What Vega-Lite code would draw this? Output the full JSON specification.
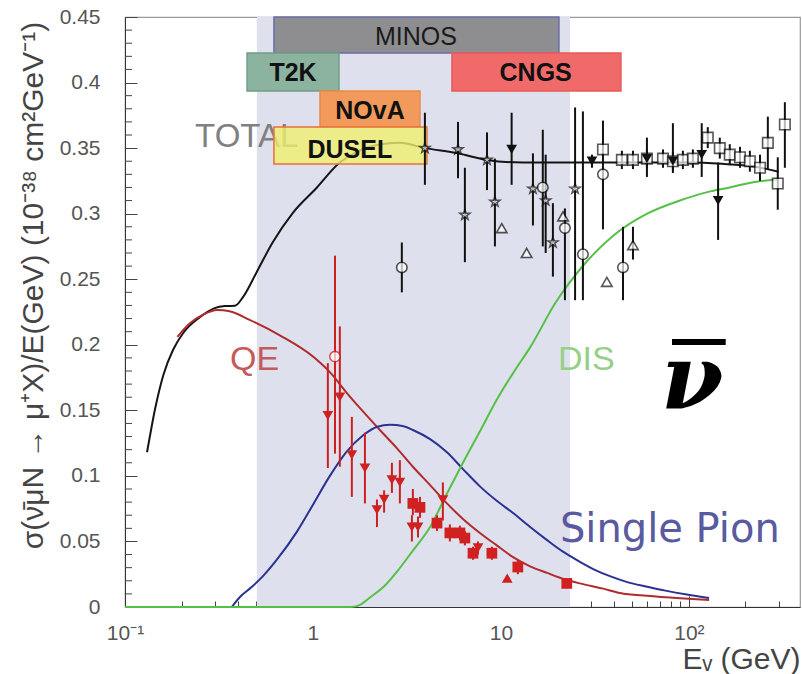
{
  "$schema": "https://vega.github.io/schema/vega-lite/v6.json",
  "width": 675,
  "height": 590,
  "autosize": {"type": "none"},
  "padding": {"left": 125, "top": 17, "right": 2, "bottom": 67},
  "background": "white",
  "config": {"view": {"stroke": "#9a9a9a", "strokeWidth": 1.2}, "font": "Liberation Sans", "axis": {"labelOverlap": false}},
  "resolve": {"scale": {"color": "independent", "stroke": "independent", "fill": "independent", "shape": "independent"}},
  "datasets": {
    "curves": [
      {"k": "TOTAL", "E": 0.131, "s": 0.118}, {"k": "TOTAL", "E": 0.145, "s": 0.152}, {"k": "TOTAL", "E": 0.16, "s": 0.177}, {"k": "TOTAL", "E": 0.18, "s": 0.196}, {"k": "TOTAL", "E": 0.204, "s": 0.209}, {"k": "TOTAL", "E": 0.25, "s": 0.221}, {"k": "TOTAL", "E": 0.3, "s": 0.228}, {"k": "TOTAL", "E": 0.34, "s": 0.2295}, {"k": "TOTAL", "E": 0.385, "s": 0.2298}, {"k": "TOTAL", "E": 0.425, "s": 0.2365}, {"k": "TOTAL", "E": 0.5, "s": 0.255}, {"k": "TOTAL", "E": 0.61, "s": 0.278}, {"k": "TOTAL", "E": 0.78, "s": 0.3005}, {"k": "TOTAL", "E": 1.05, "s": 0.32}, {"k": "TOTAL", "E": 1.39, "s": 0.339}, {"k": "TOTAL", "E": 1.57, "s": 0.344}, {"k": "TOTAL", "E": 2.0, "s": 0.351}, {"k": "TOTAL", "E": 2.9, "s": 0.354}, {"k": "TOTAL", "E": 3.95, "s": 0.35}, {"k": "TOTAL", "E": 5.9, "s": 0.346}, {"k": "TOTAL", "E": 8.4, "s": 0.341}, {"k": "TOTAL", "E": 13, "s": 0.339}, {"k": "TOTAL", "E": 30, "s": 0.339}, {"k": "TOTAL", "E": 60, "s": 0.339}, {"k": "TOTAL", "E": 100, "s": 0.339}, {"k": "TOTAL", "E": 150, "s": 0.338}, {"k": "TOTAL", "E": 220, "s": 0.336}, {"k": "TOTAL", "E": 300, "s": 0.332},
      {"k": "QE", "E": 0.19, "s": 0.206}, {"k": "QE", "E": 0.22, "s": 0.216}, {"k": "QE", "E": 0.26, "s": 0.223}, {"k": "QE", "E": 0.31, "s": 0.2266}, {"k": "QE", "E": 0.36, "s": 0.2255}, {"k": "QE", "E": 0.46, "s": 0.219}, {"k": "QE", "E": 0.67, "s": 0.207}, {"k": "QE", "E": 1.0, "s": 0.191}, {"k": "QE", "E": 1.25, "s": 0.178}, {"k": "QE", "E": 1.52, "s": 0.163}, {"k": "QE", "E": 1.85, "s": 0.149}, {"k": "QE", "E": 2.27, "s": 0.135}, {"k": "QE", "E": 2.8, "s": 0.121}, {"k": "QE", "E": 3.4, "s": 0.107}, {"k": "QE", "E": 4.2, "s": 0.093}, {"k": "QE", "E": 5.16, "s": 0.079}, {"k": "QE", "E": 6.3, "s": 0.067}, {"k": "QE", "E": 7.73, "s": 0.0565}, {"k": "QE", "E": 9.5, "s": 0.047}, {"k": "QE", "E": 11.6, "s": 0.038}, {"k": "QE", "E": 14.3, "s": 0.031}, {"k": "QE", "E": 17.6, "s": 0.026}, {"k": "QE", "E": 22, "s": 0.021}, {"k": "QE", "E": 26.3, "s": 0.018}, {"k": "QE", "E": 35, "s": 0.014}, {"k": "QE", "E": 43, "s": 0.0107}, {"k": "QE", "E": 60, "s": 0.0085}, {"k": "QE", "E": 90, "s": 0.0066}, {"k": "QE", "E": 128, "s": 0.0053},
      {"k": "PI", "E": 0.37, "s": 0}, {"k": "PI", "E": 0.409, "s": 0.0076}, {"k": "PI", "E": 0.47, "s": 0.015}, {"k": "PI", "E": 0.542, "s": 0.0235}, {"k": "PI", "E": 0.65, "s": 0.037}, {"k": "PI", "E": 0.822, "s": 0.0575}, {"k": "PI", "E": 1.0, "s": 0.078}, {"k": "PI", "E": 1.23, "s": 0.1}, {"k": "PI", "E": 1.5, "s": 0.118}, {"k": "PI", "E": 1.85, "s": 0.131}, {"k": "PI", "E": 2.2, "s": 0.1375}, {"k": "PI", "E": 2.57, "s": 0.139}, {"k": "PI", "E": 3.0, "s": 0.138}, {"k": "PI", "E": 3.4, "s": 0.135}, {"k": "PI", "E": 4.2, "s": 0.128}, {"k": "PI", "E": 5.16, "s": 0.118}, {"k": "PI", "E": 6.3, "s": 0.105}, {"k": "PI", "E": 7.73, "s": 0.092}, {"k": "PI", "E": 9.5, "s": 0.081}, {"k": "PI", "E": 11.6, "s": 0.0717}, {"k": "PI", "E": 14.3, "s": 0.061}, {"k": "PI", "E": 17.6, "s": 0.051}, {"k": "PI", "E": 21.5, "s": 0.042}, {"k": "PI", "E": 26.3, "s": 0.0345}, {"k": "PI", "E": 32, "s": 0.028}, {"k": "PI", "E": 38, "s": 0.0235}, {"k": "PI", "E": 47, "s": 0.019}, {"k": "PI", "E": 60, "s": 0.0155}, {"k": "PI", "E": 75, "s": 0.0125}, {"k": "PI", "E": 97.6, "s": 0.0095}, {"k": "PI", "E": 128, "s": 0.0069},
      {"k": "DIS", "E": 0.1, "s": 0}, {"k": "DIS", "E": 1.6, "s": 0}, {"k": "DIS", "E": 1.8, "s": 0.002}, {"k": "DIS", "E": 2.0, "s": 0.007}, {"k": "DIS", "E": 2.4, "s": 0.016}, {"k": "DIS", "E": 2.8, "s": 0.027}, {"k": "DIS", "E": 3.4, "s": 0.043}, {"k": "DIS", "E": 4.2, "s": 0.061}, {"k": "DIS", "E": 5.1, "s": 0.085}, {"k": "DIS", "E": 6.28, "s": 0.11}, {"k": "DIS", "E": 7.8, "s": 0.135}, {"k": "DIS", "E": 9.5, "s": 0.158}, {"k": "DIS", "E": 11.8, "s": 0.18}, {"k": "DIS", "E": 14.3, "s": 0.198}, {"k": "DIS", "E": 19.5, "s": 0.232}, {"k": "DIS", "E": 28, "s": 0.262}, {"k": "DIS", "E": 39.4, "s": 0.283}, {"k": "DIS", "E": 60, "s": 0.3}, {"k": "DIS", "E": 89.5, "s": 0.31}, {"k": "DIS", "E": 130, "s": 0.317}, {"k": "DIS", "E": 165, "s": 0.32}, {"k": "DIS", "E": 220, "s": 0.324}, {"k": "DIS", "E": 294, "s": 0.326}
    ],
    "pts": [
      {"E": 2.97, "s": 0.259, "lo": 0.24, "hi": 0.278, "m": "circle", "c": "k", "f": "n"},
      {"E": 3.94, "s": 0.35, "lo": 0.322, "hi": 0.377, "m": "star", "c": "k", "f": "n"},
      {"E": 5.91, "s": 0.349, "lo": 0.327, "hi": 0.37, "m": "star", "c": "k", "f": "n"},
      {"E": 6.43, "s": 0.299, "lo": 0.263, "hi": 0.335, "m": "star", "c": "k", "f": "n"},
      {"E": 8.43, "s": 0.341, "lo": 0.318, "hi": 0.362, "m": "star", "c": "k", "f": "n"},
      {"E": 9.29, "s": 0.309, "lo": 0.275, "hi": 0.342, "m": "star", "c": "k", "f": "n"},
      {"E": 10.1, "s": 0.289, "lo": 0.289, "hi": 0.289, "m": "tri", "c": "k", "f": "n"},
      {"E": 11.4, "s": 0.349, "lo": 0.322, "hi": 0.377, "m": "down", "c": "k", "f": "y"},
      {"E": 13.7, "s": 0.27, "lo": 0.27, "hi": 0.27, "m": "tri", "c": "k", "f": "n"},
      {"E": 14.8, "s": 0.319, "lo": 0.291, "hi": 0.346, "m": "star", "c": "k", "f": "n"},
      {"E": 16.7, "s": 0.32, "lo": 0.275, "hi": 0.364, "m": "circle", "c": "k", "f": "n"},
      {"E": 17.3, "s": 0.31, "lo": 0.27, "hi": 0.345, "m": "star", "c": "k", "f": "n"},
      {"E": 18.9, "s": 0.278, "lo": 0.252, "hi": 0.308, "m": "star", "c": "k", "f": "n"},
      {"E": 21.4, "s": 0.298, "lo": 0.298, "hi": 0.298, "m": "tri", "c": "k", "f": "n"},
      {"E": 21.9, "s": 0.289, "lo": 0.234, "hi": 0.304, "m": "circle", "c": "k", "f": "n"},
      {"E": 24.8, "s": 0.319, "lo": 0.234, "hi": 0.381, "m": "star", "c": "k", "f": "n"},
      {"E": 27.3, "s": 0.269, "lo": 0.234, "hi": 0.378, "m": "circle", "c": "k", "f": "n"},
      {"E": 30.5, "s": 0.34, "lo": 0.335, "hi": 0.345, "m": "down", "c": "k", "f": "y"},
      {"E": 34.9, "s": 0.349, "lo": 0.288, "hi": 0.371, "m": "square", "c": "k", "f": "n"},
      {"E": 34.9, "s": 0.33, "lo": 0.33, "hi": 0.33, "m": "circle", "c": "k", "f": "n"},
      {"E": 36.6, "s": 0.248, "lo": 0.248, "hi": 0.248, "m": "tri", "c": "k", "f": "n"},
      {"E": 44.6, "s": 0.259, "lo": 0.234, "hi": 0.29, "m": "circle", "c": "k", "f": "n"},
      {"E": 50.4, "s": 0.276, "lo": 0.265, "hi": 0.29, "m": "tri", "c": "k", "f": "n"},
      {"E": 44.0, "s": 0.341, "lo": 0.334, "hi": 0.348, "m": "square", "c": "k", "f": "n"},
      {"E": 50.4, "s": 0.341, "lo": 0.334, "hi": 0.348, "m": "square", "c": "k", "f": "n"},
      {"E": 59.8, "s": 0.342, "lo": 0.335, "hi": 0.349, "m": "square", "c": "k", "f": "n"},
      {"E": 72.8, "s": 0.342, "lo": 0.335, "hi": 0.349, "m": "square", "c": "k", "f": "n"},
      {"E": 82.2, "s": 0.34, "lo": 0.333, "hi": 0.347, "m": "square", "c": "k", "f": "n"},
      {"E": 92.9, "s": 0.341, "lo": 0.334, "hi": 0.348, "m": "square", "c": "k", "f": "n"},
      {"E": 105, "s": 0.342, "lo": 0.335, "hi": 0.349, "m": "square", "c": "k", "f": "n"},
      {"E": 126, "s": 0.358, "lo": 0.35, "hi": 0.366, "m": "square", "c": "k", "f": "n"},
      {"E": 146, "s": 0.35, "lo": 0.342, "hi": 0.358, "m": "square", "c": "k", "f": "n"},
      {"E": 165, "s": 0.345, "lo": 0.337, "hi": 0.353, "m": "square", "c": "k", "f": "n"},
      {"E": 187, "s": 0.343, "lo": 0.335, "hi": 0.351, "m": "square", "c": "k", "f": "n"},
      {"E": 211, "s": 0.34, "lo": 0.332, "hi": 0.348, "m": "square", "c": "k", "f": "n"},
      {"E": 239, "s": 0.335, "lo": 0.325, "hi": 0.345, "m": "square", "c": "k", "f": "n"},
      {"E": 263, "s": 0.354, "lo": 0.334, "hi": 0.374, "m": "square", "c": "k", "f": "n"},
      {"E": 297, "s": 0.323, "lo": 0.303, "hi": 0.343, "m": "square", "c": "k", "f": "n"},
      {"E": 324, "s": 0.368, "lo": 0.335, "hi": 0.385, "m": "square", "c": "k", "f": "n"},
      {"E": 59.8, "s": 0.342, "lo": 0.328, "hi": 0.358, "m": "down", "c": "k", "f": "y"},
      {"E": 82.2, "s": 0.34, "lo": 0.331, "hi": 0.369, "m": "down", "c": "k", "f": "y"},
      {"E": 117, "s": 0.345, "lo": 0.328, "hi": 0.369, "m": "down", "c": "k", "f": "y"},
      {"E": 143, "s": 0.31, "lo": 0.28, "hi": 0.339, "m": "down", "c": "k", "f": "y"},
      {"E": 1.2, "s": 0.146, "lo": 0.106, "hi": 0.186, "m": "down", "c": "r", "f": "y"},
      {"E": 1.31, "s": 0.191, "lo": 0.117, "hi": 0.268, "m": "circle", "c": "r", "f": "n"},
      {"E": 1.39, "s": 0.16, "lo": 0.107, "hi": 0.214, "m": "down", "c": "r", "f": "y"},
      {"E": 1.61, "s": 0.116, "lo": 0.084, "hi": 0.145, "m": "down", "c": "r", "f": "y"},
      {"E": 1.89, "s": 0.106, "lo": 0.079, "hi": 0.133, "m": "down", "c": "r", "f": "y"},
      {"E": 2.19, "s": 0.074, "lo": 0.061, "hi": 0.082, "m": "down", "c": "r", "f": "y"},
      {"E": 2.39, "s": 0.082, "lo": 0.072, "hi": 0.089, "m": "down", "c": "r", "f": "y"},
      {"E": 2.63, "s": 0.097, "lo": 0.087, "hi": 0.11, "m": "down", "c": "r", "f": "y"},
      {"E": 2.9, "s": 0.095, "lo": 0.079, "hi": 0.112, "m": "down", "c": "r", "f": "y"},
      {"E": 3.4, "s": 0.079, "lo": 0.07, "hi": 0.09, "m": "square", "c": "r", "f": "y"},
      {"E": 3.36, "s": 0.061, "lo": 0.05, "hi": 0.07, "m": "down", "c": "r", "f": "y"},
      {"E": 3.71, "s": 0.076, "lo": 0.068, "hi": 0.084, "m": "square", "c": "r", "f": "y"},
      {"E": 3.62, "s": 0.061, "lo": 0.053, "hi": 0.069, "m": "down", "c": "r", "f": "y"},
      {"E": 4.57, "s": 0.064, "lo": 0.058, "hi": 0.07, "m": "square", "c": "r", "f": "y"},
      {"E": 4.91, "s": 0.0816, "lo": 0.066, "hi": 0.095, "m": "down", "c": "r", "f": "y"},
      {"E": 5.35, "s": 0.0565, "lo": 0.05, "hi": 0.063, "m": "square", "c": "r", "f": "y"},
      {"E": 6.05, "s": 0.0565, "lo": 0.051, "hi": 0.062, "m": "square", "c": "r", "f": "y"},
      {"E": 6.43, "s": 0.0526, "lo": 0.047, "hi": 0.058, "m": "square", "c": "r", "f": "y"},
      {"E": 7.1, "s": 0.041, "lo": 0.036, "hi": 0.046, "m": "square", "c": "r", "f": "y"},
      {"E": 7.55, "s": 0.045, "lo": 0.04, "hi": 0.05, "m": "down", "c": "r", "f": "y"},
      {"E": 8.95, "s": 0.041, "lo": 0.036, "hi": 0.046, "m": "square", "c": "r", "f": "y"},
      {"E": 10.8, "s": 0.022, "lo": 0.022, "hi": 0.022, "m": "tri", "c": "r", "f": "y"},
      {"E": 12.3, "s": 0.0305, "lo": 0.025, "hi": 0.036, "m": "square", "c": "r", "f": "y"},
      {"E": 22.4, "s": 0.018, "lo": 0.015, "hi": 0.021, "m": "square", "c": "r", "f": "y"}
    ],
    "boxes": [
      {"n": "MINOS", "x1": 0.62, "x2": 20.35, "y1": 0.4225, "y2": 0.45, "tx": 3.53, "ty": 0.4347},
      {"n": "T2K", "x1": 0.446, "x2": 1.375, "y1": 0.3936, "y2": 0.4225, "tx": 0.783, "ty": 0.4073},
      {"n": "CNGS", "x1": 5.49, "x2": 43.5, "y1": 0.3936, "y2": 0.4225, "tx": 15.3, "ty": 0.4073},
      {"n": "NOvA", "x1": 1.09, "x2": 3.71, "y1": 0.3661, "y2": 0.3936, "tx": 2.01, "ty": 0.3783},
      {"n": "DUSEL", "x1": 0.62, "x2": 4.04, "y1": 0.3379, "y2": 0.3661, "tx": 1.57, "ty": 0.3486}
    ],
    "minorY": [
      {"v": 0.01}, {"v": 0.02}, {"v": 0.03}, {"v": 0.04}, {"v": 0.06}, {"v": 0.07}, {"v": 0.08}, {"v": 0.09},
      {"v": 0.11}, {"v": 0.12}, {"v": 0.13}, {"v": 0.14}, {"v": 0.16}, {"v": 0.17}, {"v": 0.18}, {"v": 0.19},
      {"v": 0.21}, {"v": 0.22}, {"v": 0.23}, {"v": 0.24}, {"v": 0.26}, {"v": 0.27}, {"v": 0.28}, {"v": 0.29},
      {"v": 0.31}, {"v": 0.32}, {"v": 0.33}, {"v": 0.34}, {"v": 0.36}, {"v": 0.37}, {"v": 0.38}, {"v": 0.39},
      {"v": 0.41}, {"v": 0.42}, {"v": 0.43}, {"v": 0.44}
    ]
  },
  "layer": [
    {
      "data": {"values": [{"a": 0.503, "b": 23.3, "lo": 0, "hi": 0.45}]},
      "mark": {"type": "rect", "color": "#dfe0ee"},
      "encoding": {
        "x": {"field": "a", "type": "quantitative", "scale": {"type": "log", "domain": [0.1, 390], "nice": false},
          "axis": {
            "title": "Eᵥ (GeV)", "titleFont": "Liberation Sans", "titleFontSize": 30, "titleFontWeight": "normal", "titleColor": "#444",
            "titleAlign": "right", "titleX": 675, "titleY": 61, "titleBaseline": "alphabetic",
            "values": [0.1, 0.2, 0.3, 0.4, 0.5, 0.6, 0.7, 0.8, 0.9, 1, 2, 3, 4, 5, 6, 7, 8, 9, 10, 20, 30, 40, 50, 60, 70, 80, 90, 100, 200, 300],
            "labelExpr": "datum.value==0.1?'10⁻¹':datum.value==1?'1':datum.value==10?'10':datum.value==100?'10²':''",
            "labelFont": "Liberation Sans", "labelFontSize": 21, "labelColor": "#555", "labelPadding": 26, "labelFlush": false, "labelOverlap": false,
            "tickSize": {"condition": {"test": "datum.value==0.1||datum.value==1||datum.value==10||datum.value==100", "value": -11}, "value": -6},
            "tickColor": "#444", "domainColor": "#333", "grid": false
          }},
        "x2": {"field": "b"},
        "y": {"field": "lo", "type": "quantitative", "scale": {"domain": [0, 0.45], "nice": false, "zero": false},
          "axis": {
            "title": "σ(ν̄μN → μ⁺X)/E(GeV)   (10⁻³⁸ cm²GeV⁻¹)", "titleFont": "Liberation Sans", "titleFontSize": 30, "titleFontWeight": "normal", "titleColor": "#444",
            "titleX": -92, "titleY": 268, "titleAlign": "center", "titleBaseline": "middle", "titleAngle": -90,
            "values": [0, 0.05, 0.1, 0.15, 0.2, 0.25, 0.3, 0.35, 0.4, 0.45],
            "labelExpr": "format(datum.value,'.2~f')",
            "labelFont": "Liberation Sans", "labelFontSize": 21, "labelColor": "#555", "labelPadding": 37, "labelFlush": false, "labelOverlap": false,
            "tickSize": -12,
            "tickColor": "#444", "domainColor": "#333", "grid": false
          }},
        "y2": {"field": "hi"}
      }
    },
    {
      "data": {"name": "minorY"},
      "mark": {"type": "rule", "color": "#444", "strokeWidth": 1, "x2Offset": 7},
      "encoding": {"x": {"datum": 0.1, "type": "quantitative"}, "x2": {"datum": 0.1}, "y": {"field": "v", "type": "quantitative"}}
    },
    {
      "data": {"values": [{"t": "TOTAL", "E": 0.236, "s": 0.3585}]},
      "mark": {"type": "text", "align": "left", "baseline": "middle", "fontSize": 33, "font": "Liberation Sans", "color": "#808080"},
      "encoding": {"x": {"field": "E", "type": "quantitative"}, "y": {"field": "s", "type": "quantitative"}, "text": {"field": "t"}}
    },
    {
      "data": {"values": [{"t": "QE", "E": 0.362, "s": 0.1884}]},
      "mark": {"type": "text", "align": "left", "baseline": "middle", "fontSize": 34, "font": "Liberation Sans", "color": "#c65a5a"},
      "encoding": {"x": {"field": "E", "type": "quantitative"}, "y": {"field": "s", "type": "quantitative"}, "text": {"field": "t"}}
    },
    {
      "data": {"values": [{"t": "DIS", "E": 20.1, "s": 0.1884}]},
      "mark": {"type": "text", "align": "left", "baseline": "middle", "fontSize": 34, "font": "Liberation Sans", "color": "#94d088"},
      "encoding": {"x": {"field": "E", "type": "quantitative"}, "y": {"field": "s", "type": "quantitative"}, "text": {"field": "t"}}
    },
    {
      "data": {"values": [{"t": "Single Pion", "E": 20.6, "s": 0.0587}]},
      "mark": {"type": "text", "align": "left", "baseline": "middle", "fontSize": 40, "font": "DejaVu Sans", "color": "#5a5aa0"},
      "encoding": {"x": {"field": "E", "type": "quantitative"}, "y": {"field": "s", "type": "quantitative"}, "text": {"field": "t"}}
    },
    {
      "data": {"name": "curves"},
      "mark": {"type": "line", "strokeWidth": 2, "interpolate": "monotone"},
      "encoding": {
        "x": {"field": "E", "type": "quantitative"},
        "y": {"field": "s", "type": "quantitative"},
        "detail": {"field": "k"},
        "color": {"field": "k", "type": "nominal", "scale": {"domain": ["TOTAL", "QE", "PI", "DIS"], "range": ["#151515", "#b02c2c", "#2b3292", "#55c046"]}, "legend": null}
      }
    },
    {
      "data": {"name": "boxes"},
      "mark": {"type": "rect", "strokeWidth": 1.5},
      "encoding": {
        "x": {"field": "x1", "type": "quantitative"}, "x2": {"field": "x2"},
        "y": {"field": "y1", "type": "quantitative"}, "y2": {"field": "y2"},
        "fill": {"field": "n", "type": "nominal", "scale": {"domain": ["MINOS", "T2K", "CNGS", "NOvA", "DUSEL"], "range": ["#8e8e90", "#8cb3a0", "#f06a6a", "#f29a5c", "#efef6e"]}, "legend": null},
        "stroke": {"field": "n", "type": "nominal", "scale": {"domain": ["MINOS", "T2K", "CNGS", "NOvA", "DUSEL"], "range": ["#6c6ca8", "#6f9f85", "#e85a5a", "#e88a48", "#e8703a"]}, "legend": null},
        "fillOpacity": {"condition": {"test": "datum.n=='DUSEL'", "value": 0.8}, "value": 1}
      }
    },
    {
      "data": {"name": "boxes"},
      "transform": [{"filter": "datum.n=='MINOS'"}],
      "mark": {"type": "text", "align": "center", "baseline": "middle", "fontSize": 25, "font": "Liberation Sans", "color": "#1a1a1a"},
      "encoding": {"x": {"field": "tx", "type": "quantitative"}, "y": {"field": "ty", "type": "quantitative"}, "text": {"field": "n"}}
    },
    {
      "data": {"name": "boxes"},
      "transform": [{"filter": "datum.n!='MINOS'"}],
      "mark": {"type": "text", "align": "center", "baseline": "middle", "fontSize": 25, "fontWeight": "bold", "font": "Liberation Sans", "color": "#111"},
      "encoding": {"x": {"field": "tx", "type": "quantitative"}, "y": {"field": "ty", "type": "quantitative"}, "text": {"field": "n"}}
    },
    {
      "data": {"name": "pts"},
      "mark": {"type": "rule", "strokeWidth": 2},
      "encoding": {
        "x": {"field": "E", "type": "quantitative"},
        "y": {"field": "lo", "type": "quantitative"}, "y2": {"field": "hi"},
        "color": {"field": "c", "type": "nominal", "scale": {"domain": ["k", "r"], "range": ["#111111", "#cc2020"]}, "legend": null}
      }
    },
    {
      "data": {"name": "pts"},
      "transform": [{"filter": "datum.f=='n'"}],
      "mark": {"type": "point", "filled": true, "fill": "white", "strokeWidth": 1.6, "size": 110},
      "encoding": {
        "x": {"field": "E", "type": "quantitative"},
        "y": {"field": "s", "type": "quantitative"},
        "shape": {"field": "m", "type": "nominal", "scale": {"domain": ["circle", "square", "tri", "down", "star"], "range": ["circle", "square", "triangle-up", "triangle-down", "M0,-1L0.236,-0.325L0.951,-0.309L0.382,0.124L0.588,0.809L0,0.4L-0.588,0.809L-0.382,0.124L-0.951,-0.309L-0.236,-0.325Z"]}, "legend": null},
        "stroke": {"field": "c", "type": "nominal", "scale": {"domain": ["k", "r"], "range": ["#111111", "#cc2020"]}, "legend": null}
      }
    },
    {
      "data": {"name": "pts"},
      "transform": [{"filter": "datum.f=='y'"}],
      "mark": {"type": "point", "filled": true, "strokeWidth": 0, "size": 115, "opacity": 1},
      "encoding": {
        "x": {"field": "E", "type": "quantitative"},
        "y": {"field": "s", "type": "quantitative"},
        "shape": {"field": "m", "type": "nominal", "scale": {"domain": ["circle", "square", "tri", "down", "star"], "range": ["circle", "square", "triangle-up", "triangle-down", "M0,-1L0.236,-0.325L0.951,-0.309L0.382,0.124L0.588,0.809L0,0.4L-0.588,0.809L-0.382,0.124L-0.951,-0.309L-0.236,-0.325Z"]}, "legend": null},
        "color": {"field": "c", "type": "nominal", "scale": {"domain": ["k", "r"], "range": ["#111111", "#d02020"]}, "legend": null}
      }
    },
    {
      "data": {"values": [{"t": "ν", "E": 104, "s": 0.1518}]},
      "mark": {"type": "text", "align": "center", "baseline": "alphabetic", "fontSize": 90, "font": "DejaVu Serif", "fontStyle": "italic", "fontWeight": "bold", "color": "#000"},
      "encoding": {"x": {"field": "E", "type": "quantitative"}, "y": {"field": "s", "type": "quantitative"}, "text": {"field": "t"}}
    },
    {
      "data": {"values": [{"a": 81.3, "b": 157, "s": 0.2021}]},
      "mark": {"type": "rule", "strokeWidth": 6, "color": "#000"},
      "encoding": {"x": {"field": "a", "type": "quantitative"}, "x2": {"field": "b"}, "y": {"field": "s", "type": "quantitative"}}
    }
  ]
}
